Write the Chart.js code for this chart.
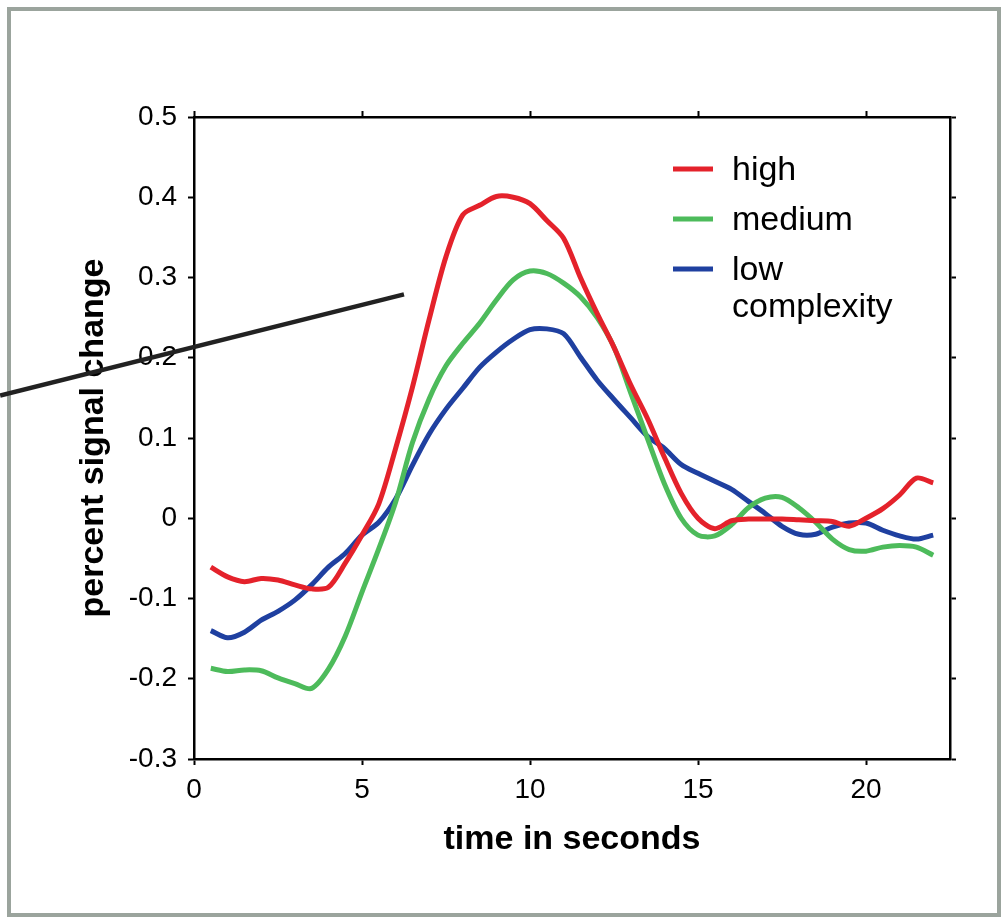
<!DOCTYPE html>
<html>
<head>
<meta charset="utf-8">
<script src="https://cdn.jsdelivr.net/npm/chart.js@4.4.1/dist/chart.umd.min.js"></script>
<style>
  html, body { margin: 0; padding: 0; background: #ffffff; }
  #frame { position: absolute; left: 7px; top: 7px; width: 986px; height: 902px; border: 4px solid #9ba49d; }
  #wrap { position: absolute; left: 0; top: 0; width: 1003px; height: 918px; }
</style>
</head>
<body>
<div id="frame"></div>
<div id="wrap"><canvas id="c" width="1003" height="918"></canvas></div>
<script>
// ---- data ----
const times = [0.5,1,1.5,2,2.5,3,3.5,4,4.5,5,5.5,6,6.5,7,7.5,8,8.5,9,9.5,10,10.5,11,11.5,12,12.5,13,13.5,14,14.5,15,15.5,16,16.5,17,17.5,18,18.5,19,19.5,20,20.5,21,21.5,22];
const highValues = [-0.061,-0.073,-0.079,-0.075,-0.077,-0.083,-0.088,-0.086,-0.056,-0.021,0.018,0.087,0.163,0.248,0.326,0.378,0.390,0.401,0.400,0.392,0.371,0.349,0.300,0.255,0.213,0.166,0.124,0.076,0.031,0.000,-0.013,-0.003,-0.001,-0.001,-0.001,-0.002,-0.003,-0.004,-0.010,0.000,0.012,0.029,0.050,0.044];
const mediumValues = [-0.187,-0.191,-0.189,-0.190,-0.199,-0.206,-0.212,-0.188,-0.147,-0.092,-0.038,0.020,0.094,0.149,0.190,0.218,0.243,0.272,0.297,0.308,0.305,0.293,0.276,0.250,0.213,0.156,0.099,0.043,0.000,-0.021,-0.022,-0.008,0.013,0.025,0.026,0.013,-0.005,-0.026,-0.039,-0.041,-0.036,-0.034,-0.036,-0.046];
const lowValues = [-0.140,-0.149,-0.142,-0.127,-0.116,-0.102,-0.083,-0.061,-0.044,-0.021,-0.005,0.024,0.066,0.105,0.136,0.162,0.188,0.207,0.223,0.235,0.236,0.230,0.201,0.172,0.148,0.125,0.102,0.087,0.067,0.056,0.046,0.036,0.021,0.006,-0.010,-0.020,-0.020,-0.011,-0.006,-0.006,-0.015,-0.022,-0.026,-0.021];
const seriesLabels = [["high"], ["medium"], ["low", "complexity"]];
const xTitle = "time in seconds";
const yTitle = "percent signal change";
const xRange = [0, 22.5];
const yRange = [-0.3, 0.5];
const xStep = 5;
const yStep = 0.1;
// annotation pointer line endpoints, in data units
const pointerX = [-5.77, 6.25];
const pointerY = [0.153, 0.279];

// ---- styles ----
const colors = ["#e4222b", "#4dbb5b", "#1f40a0"];
const FONT = "'Liberation Sans', Arial, Helvetica, sans-serif";

function pts(vals) { return times.map((t, i) => ({ x: t, y: vals[i] })); }

const datasets = [highValues, mediumValues, lowValues].map((v, i) => ({
  label: seriesLabels[i].join(" "),
  data: pts(v),
  borderColor: colors[i],
  backgroundColor: colors[i],
  borderWidth: 5,
  pointRadius: 0,
  tension: 0.3,
  fill: false
}));

function yFmt(v) {
  if (Math.abs(v) < 1e-9) return "0";
  return (Math.round(v * 10) / 10).toFixed(1);
}

const axisCommon = {
  border: { display: true, color: "#000", width: 2.5 },
  grid: { display: true, drawOnChartArea: false, drawTicks: true, tickLength: 6, tickWidth: 2, tickColor: "#000" }
};

const legendPlugin = {
  id: "customLegend",
  afterDatasetsDraw(chart) {
    const ctx = chart.ctx, a = chart.chartArea;
    ctx.save();
    ctx.font = "34px " + FONT;
    ctx.fillStyle = "#000";
    ctx.textAlign = "left";
    ctx.textBaseline = "alphabetic";
    seriesLabels.forEach((lines, i) => {
      const ly = a.top + 52 + 50 * i;
      ctx.strokeStyle = colors[i];
      ctx.lineWidth = 5;
      ctx.beginPath();
      ctx.moveTo(673, ly);
      ctx.lineTo(713, ly);
      ctx.stroke();
      lines.forEach((txt, j) => {
        ctx.fillText(txt, 732, ly + 11 + 37 * j);
      });
    });
    ctx.restore();
  }
};

const pointerPlugin = {
  id: "pointer",
  afterDraw(chart) {
    const ctx = chart.ctx, xs = chart.scales.x, ys = chart.scales.y;
    ctx.save();
    ctx.strokeStyle = "#222";
    ctx.lineWidth = 4.5;
    ctx.beginPath();
    ctx.moveTo(xs.getPixelForValue(pointerX[0]), ys.getPixelForValue(pointerY[0]));
    ctx.lineTo(xs.getPixelForValue(pointerX[1]), ys.getPixelForValue(pointerY[1]));
    ctx.stroke();
    ctx.restore();
  }
};

new Chart(document.getElementById("c"), {
  type: "line",
  data: { datasets },
  options: {
    responsive: false,
    animation: false,
    devicePixelRatio: 1,
    layout: { padding: 0 },
    plugins: { legend: { display: false }, tooltip: { enabled: false } },
    scales: {
      x: Object.assign({}, axisCommon, {
        type: "linear", position: "bottom", min: xRange[0], max: xRange[1],
        ticks: { stepSize: xStep, includeBounds: false, color: "#000", padding: 8, maxRotation: 0, font: { family: FONT, size: 28 } },
        title: { display: true, text: xTitle, color: "#000", font: { family: FONT, size: 34, weight: "bold" }, padding: { top: 0, bottom: 58 } },
        afterFit(s) { s.height = 159; }
      }),
      x2: Object.assign({}, axisCommon, {
        type: "linear", position: "top", min: xRange[0], max: xRange[1],
        ticks: { stepSize: xStep, includeBounds: false, display: false },
        afterFit(s) { s.height = 117; }
      }),
      y: Object.assign({}, axisCommon, {
        type: "linear", position: "left", min: yRange[0], max: yRange[1],
        ticks: { stepSize: yStep, color: "#000", padding: 11, font: { family: FONT, size: 28 }, callback: yFmt },
        title: { display: true, text: yTitle, color: "#000", font: { family: FONT, size: 34, weight: "bold" }, padding: { top: 73, bottom: 0 } },
        afterFit(s) { s.width = 194; }
      }),
      y2: Object.assign({}, axisCommon, {
        type: "linear", position: "right", min: yRange[0], max: yRange[1],
        ticks: { stepSize: yStep, display: false },
        afterFit(s) { s.width = 53; }
      })
    }
  },
  plugins: [legendPlugin, pointerPlugin]
});
</script>
</body>
</html>
